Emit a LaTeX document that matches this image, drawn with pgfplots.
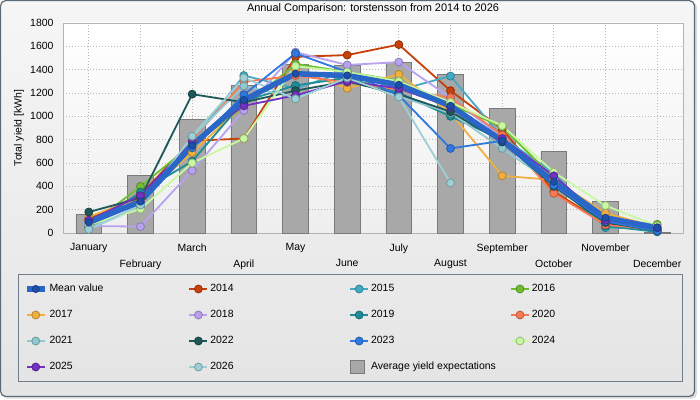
\documentclass[border=0pt]{standalone}
\usepackage{fontspec}
\setmainfont{Liberation Sans}
\usepackage{pgfplots}
\pgfplotsset{compat=1.18}
\usepackage{pgfplotstable}

\definecolor{meanc}{HTML}{2A66C8}
\definecolor{meanmark}{HTML}{1E4FA8}
\definecolor{meanmarkd}{HTML}{163E8A}
\definecolor{c2014}{HTML}{C8400A}
\definecolor{c2015}{HTML}{44AAC4}
\definecolor{c2016}{HTML}{70BE30}
\definecolor{c2017}{HTML}{F0B040}
\definecolor{c2018}{HTML}{B8A2F0}
\definecolor{c2019}{HTML}{208C98}
\definecolor{c2020}{HTML}{F87A55}
\definecolor{c2021}{HTML}{92C8D2}
\definecolor{c2022}{HTML}{1E5858}
\definecolor{c2023}{HTML}{3078E0}
\definecolor{c2024}{HTML}{C8F8A0}
\definecolor{c2025}{HTML}{7032C0}
\definecolor{c2026}{HTML}{9CCFD6}
\definecolor{barfill}{HTML}{A8A8A8}
\definecolor{bardraw}{HTML}{7A7A7A}
\definecolor{gridc}{HTML}{B8B8B8}
\definecolor{axisc}{HTML}{B4B4B4}
\definecolor{framec}{HTML}{5A6A76}
\definecolor{legframe}{HTML}{6E7E8A}
\definecolor{bgtop}{HTML}{F6F6F6}
\definecolor{bgbot}{HTML}{E4E4E4}
\definecolor{plotbot}{HTML}{EEEEEE}

\pgfplotstableread{
m mean y2014 y2015 y2016 y2017 y2018 y2019 y2020 y2021 y2022 y2023 y2024 y2025 y2026 exp
0 90 120 35 60 140 60 50 100 40 180 90 70 110 30 160
1 270 330 230 400 300 55 350 280 220 300 260 205 320 240 495
2 750 790 790 760 690 535 615 800 820 1190 730 600 780 830 975
3 1140 810 1350 1075 1100 1050 1130 1295 1260 1120 1185 810 1090 1330 1268
4 1365 1510 1240 1450 1400 1550 1265 1350 1160 1220 1540 1430 1180 1150 1446
5 1350 1525 1385 1380 1240 1440 1330 1290 1320 1300 1380 1380 1300 1330 1435
6 1270 1615 1225 1305 1360 1465 1200 1230 1170 1190 1180 1300 1240 1165 1463
7 1090 1220 1345 1100 1030 1160 1000 1160 1030 1040 725 1120 1080 430 1360
8 790 890 820 910 490 820 800 840 725 780 790 920 810 nan 1070
9 440 355 515 470 455 400 420 340 420 400 410 520 490 nan 697
10 130 80 45 100 170 100 60 70 110 90 100 235 110 nan 272
11 45 25 40 75 50 30 10 30 40 20 20 60 45 nan 8
}\datatable

\pgfplotsset{
  legend image code/.code={\draw[mark repeat=2,mark phase=2,#1] plot coordinates {(0bp,0bp) (9bp,0bp) (18bp,0bp)};},
  ser/.style={color=#1, line width=1.8bp, mark=*, mark size=4pt,
    mark options={fill=#1, draw=#1!75!black, line width=0.8bp, solid}},
  meanstyle/.style={color=meanc, line width=5.5bp, mark=*, mark size=3.6pt,
    mark options={fill=meanmark, draw=meanmarkd, line width=0.8bp}},
}

\newcommand{\lfont}{\fontsize{10.5}{12}\selectfont}
\newcommand{\lent}[1]{\makebox[139bp][l]{#1}}

\begin{document}
\begin{tikzpicture}
\path[use as bounding box] (0bp,0bp) rectangle (700bp,400bp);
\fill[white] (0bp,0bp) rectangle (700bp,400bp);
\fill[black!14, rounded corners=5bp] (2bp,1.5bp) rectangle (697bp,398bp);
\path[draw=framec, line width=1.2bp, rounded corners=5bp, top color=bgtop, bottom color=bgbot] (0.6bp,3.6bp) rectangle (694.4bp,399.4bp);
\draw[draw=legframe, line width=1bp] (18.5bp,18.5bp) rectangle (682.5bp,125.5bp);
\begin{axis}[
  at={(63bp,167bp)}, anchor=south west, scale only axis,
  width=620bp, height=210bp,
  xmin=-0.5, xmax=11.5, ymin=0, ymax=1800,
  xtick={0,2,4,6,8,10},
  xticklabels={January,March,May,July,September,November},
  extra x ticks={1,3,5,7,9,11},
  extra x tick labels={February,April,June,August,October,December},
  extra x tick style={grid=major, xticklabel style={yshift=-16bp}},
  ytick={0,200,...,1800},
  grid=major,
  major grid style={draw=gridc, dash pattern=on 1bp off 2bp, line width=0.8bp},
  major tick length=0pt,
  axis line style={draw=axisc, line width=0.8bp},
  tick label style={font=\lfont, text=black},
  /pgf/number format/assume math mode=true,
  /pgf/number format/1000 sep={},
  yticklabel style={xshift=-6bp},
  xticklabel style={yshift=-7bp},
  ylabel={Total yield [kWh]},
  ylabel style={at={(axis description cs:-0.071,0.5)}, anchor=center, font=\lfont},
  title={Annual Comparison: torstensson from 2014 to 2026},
  title style={at={(axis description cs:0.5,1.038)}, anchor=center, font=\fontsize{11}{13}\selectfont},
  axis background/.style={top color=white, bottom color=plotbot},
  clip=false,
  legend columns=4,
  legend cell align=left,
  legend style={at={(axis description cs:-0.0629,-0.2333)}, anchor=north west,
    draw=none, fill=none, inner sep=0pt, outer sep=0pt, font=\lfont,
    row sep=12bp, column sep=0pt,
    nodes={inner sep=0pt, text height=10bp, text depth=4bp},
    /tikz/every odd column/.style={column sep=2bp}},
]
\addplot[ybar, bar width=0.5, bar shift=0pt, fill=barfill, draw=bardraw, line width=0.8bp, forget plot] table[x=m,y=exp]{\datatable};

\addlegendimage{meanstyle}
\addlegendentry{\lent{Mean value}}
\addplot[ser=c2014] table[x=m,y=y2014]{\datatable}; \addlegendentry{\lent{2014}}
\addplot[ser=c2015] table[x=m,y=y2015]{\datatable}; \addlegendentry{\lent{2015}}
\addplot[ser=c2016] table[x=m,y=y2016]{\datatable}; \addlegendentry{\lent{2016}}
\addplot[ser=c2017] table[x=m,y=y2017]{\datatable}; \addlegendentry{\lent{2017}}
\addplot[ser=c2018] table[x=m,y=y2018]{\datatable}; \addlegendentry{\lent{2018}}
\addplot[ser=c2019] table[x=m,y=y2019]{\datatable}; \addlegendentry{\lent{2019}}
\addplot[ser=c2020] table[x=m,y=y2020]{\datatable}; \addlegendentry{\lent{2020}}
\addplot[ser=c2021] table[x=m,y=y2021]{\datatable}; \addlegendentry{\lent{2021}}
\addplot[ser=c2022] table[x=m,y=y2022]{\datatable}; \addlegendentry{\lent{2022}}
\addplot[ser=c2023] table[x=m,y=y2023]{\datatable}; \addlegendentry{\lent{2023}}
\addplot[ser=c2024] table[x=m,y=y2024]{\datatable}; \addlegendentry{\lent{2024}}
\addplot[ser=c2025] table[x=m,y=y2025]{\datatable}; \addlegendentry{\lent{2025}}
\addplot[ser=c2026] table[x=m,y=y2026]{\datatable}; \addlegendentry{\lent{2026}}
\addplot[meanstyle, forget plot] table[x=m,y=mean]{\datatable};
\addlegendimage{legend image code/.code={\draw[fill=barfill, draw=bardraw, line width=0.8bp] (0bp,-6.5bp) rectangle (14bp,6.5bp);}}
\addlegendentry{\lent{Average yield expectations}}
\end{axis}
\end{tikzpicture}
\end{document}
